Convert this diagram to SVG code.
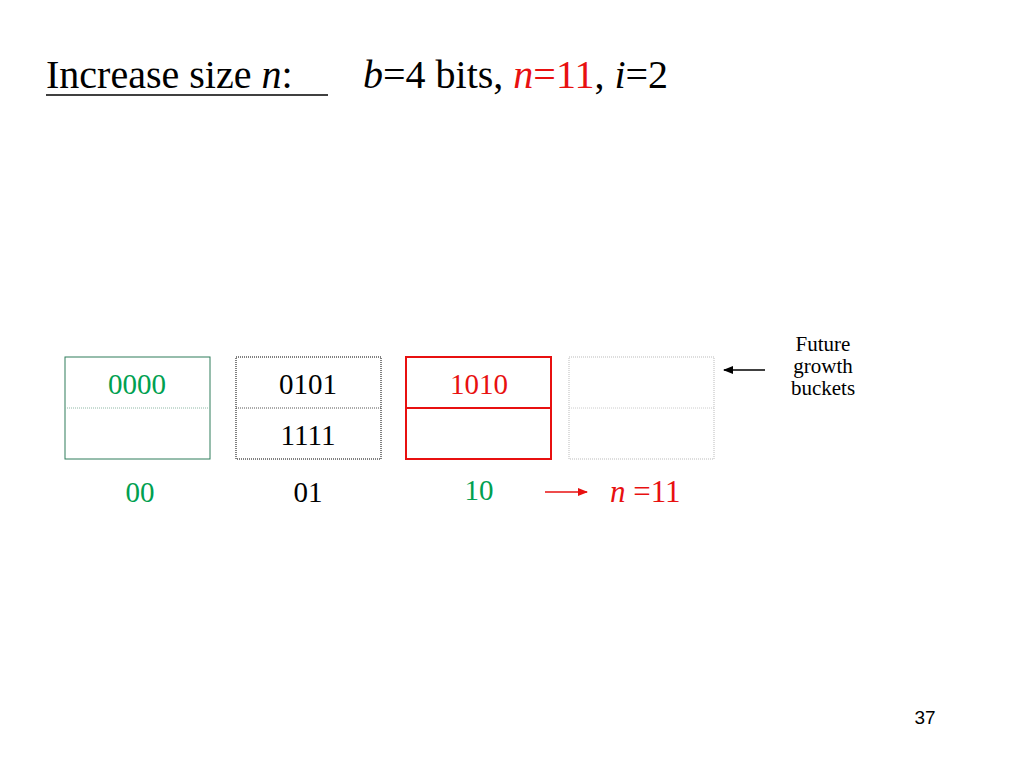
<svg xmlns="http://www.w3.org/2000/svg" width="1024" height="768" viewBox="0 0 1024 768">
<style>
text{font-family:"Liberation Serif","Times New Roman",serif}
.t{font-size:29px;text-anchor:middle}
.g{fill:#00a050}.r{fill:#e81010}
.n{font-size:21px;text-anchor:middle}
</style>
<defs>
<marker id="ak" markerWidth="10" markerHeight="8" refX="9" refY="4" orient="auto" markerUnits="userSpaceOnUse"><path d="M0,0 L10,4 L0,8z" fill="#000"/></marker>
<marker id="ar" markerWidth="10" markerHeight="8" refX="9" refY="4" orient="auto" markerUnits="userSpaceOnUse"><path d="M0,0 L10,4 L0,8z" fill="#e81010"/></marker>
</defs>
<rect width="1024" height="768" fill="#fff"/>
<text x="46" y="88" font-size="40">Increase size <tspan font-style="italic">n</tspan>:</text>
<text x="363" y="88" font-size="40"><tspan font-style="italic">b</tspan>=4 bits, <tspan fill="#e81010"><tspan font-style="italic">n</tspan>=11</tspan>, <tspan font-style="italic">i</tspan>=2</text>
<line x1="46" y1="95" x2="328" y2="95" stroke="#000" stroke-width="1.5"/>
<g id="b00"><rect x="65" y="357" width="145" height="102" fill="none" stroke="#2e7d5b" stroke-width="1"/><line x1="65" y1="408" x2="210" y2="408" stroke="#8fb8a6" stroke-dasharray="1,1"/><text x="137" y="394" class="t g">0000</text><text x="140" y="502" class="t g">00</text></g>
<g id="b01"><rect x="236" y="357" width="145" height="102" fill="none" stroke="#000" stroke-dasharray="1,1"/><line x1="236" y1="408" x2="381" y2="408" stroke="#555" stroke-dasharray="1,1"/><text x="308" y="394" class="t">0101</text><text x="308" y="445" class="t">1111</text><text x="308" y="502" class="t">01</text></g>
<g id="b10"><rect x="406" y="357" width="145" height="102" fill="none" stroke="#e81010" stroke-width="2"/><line x1="406" y1="408" x2="551" y2="408" stroke="#e81010" stroke-width="2"/><text x="479" y="394" class="t r">1010</text><text x="479" y="500" class="t g">10</text></g>
<g id="b11"><rect x="569" y="357" width="145" height="102" fill="none" stroke="#bbb" stroke-dasharray="1,1"/><line x1="569" y1="408" x2="714" y2="408" stroke="#ccc" stroke-dasharray="1,1"/><text x="610" y="502" font-size="31" class="r"><tspan font-style="italic">n</tspan> =11</text></g>
<g id="note"><text x="823" y="351" class="n">Future</text><text x="823" y="373" class="n">growth</text><text x="823" y="395" class="n">buckets</text></g>
<g id="connectors"><line x1="765" y1="370" x2="724" y2="370" stroke="#000" stroke-width="1.3" marker-end="url(#ak)"/><line x1="545" y1="492" x2="587" y2="492" stroke="#e81010" stroke-width="1.3" marker-end="url(#ar)"/></g>
<text x="925" y="724" font-size="19" text-anchor="middle" style="font-family:'Liberation Sans',sans-serif">37</text>
</svg>
